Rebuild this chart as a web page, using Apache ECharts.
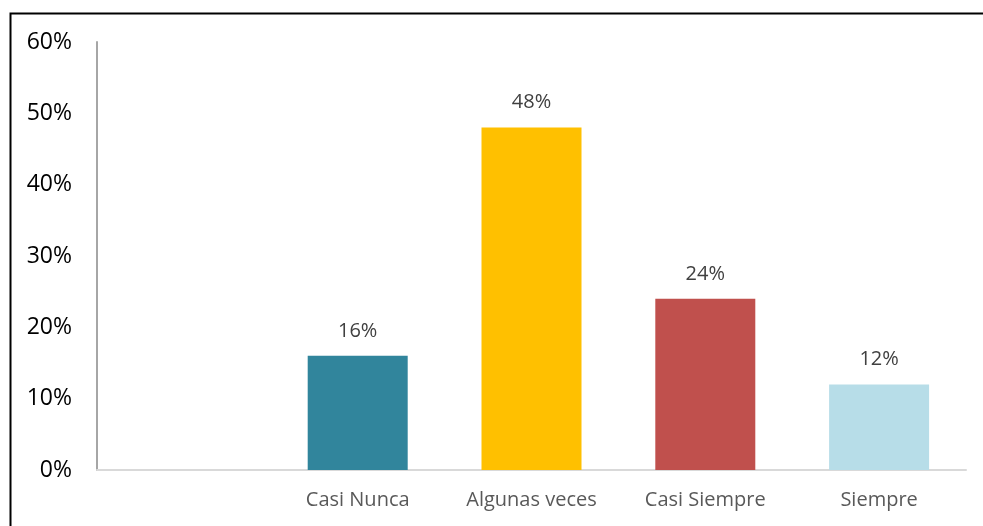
<!DOCTYPE html>
<html>
<head>
<meta charset="utf-8">
<script src="https://cdn.jsdelivr.net/npm/echarts@6/dist/echarts.min.js"></script>
<style>
  html, body { margin: 0; padding: 0; background: #fff; }
  #chart { width: 983px; height: 526px; }
</style>
</head>
<body>
<div id="chart"></div>
<script>
// first slot is left empty in the original
const categories = ['', 'Casi Nunca', 'Algunas veces', 'Casi Siempre', 'Siempre']
const values = [null, 16, 48, 24, 12]
const barColors = ['#ffffff', '#31859c', '#ffc000', '#c0504d', '#b7dde8']

const chart = echarts.init(document.getElementById('chart'))

const option = {
  animation: false,
  backgroundColor: '#fff',
  grid: { left: 97, right: 17, top: 42, bottom: 56 },
  graphic: [
    {
      type: 'rect',
      left: 8,
      top: 11,
      shape: { width: 1000, height: 600 },
      style: { fill: 'none', stroke: '#000', lineWidth: 2 },
      silent: true
    }
  ],
  xAxis: {
    type: 'category',
    data: categories,
    axisLine: { lineStyle: { color: '#d9d9d9', width: 2 } },
    axisTick: { show: false },
    axisLabel: {
      color: '#595959',
      fontSize: 20,
      fontFamily: 'Open Sans',
      margin: 20
    }
  },
  yAxis: {
    type: 'value',
    min: 0,
    max: 60,
    interval: 10,
    splitLine: { show: false },
    axisLine: { show: true, lineStyle: { color: '#a6a6a6', width: 2 } },
    axisTick: { show: false },
    axisLabel: {
      formatter: '{value}%',
      color: '#000',
      fontSize: 23,
      fontFamily: 'Open Sans',
      margin: 25
    }
  },
  series: [
    {
      type: 'bar',
      barWidth: 100,
      data: values.map((v, i) => ({ value: v, itemStyle: { color: barColors[i] } })),
      label: {
        show: true,
        position: 'top',
        distance: 15,
        formatter: '{c}%',
        color: '#404040',
        fontSize: 20,
        fontFamily: 'Open Sans'
      }
    }
  ]
}

chart.setOption(option)
</script>
</body>
</html>
